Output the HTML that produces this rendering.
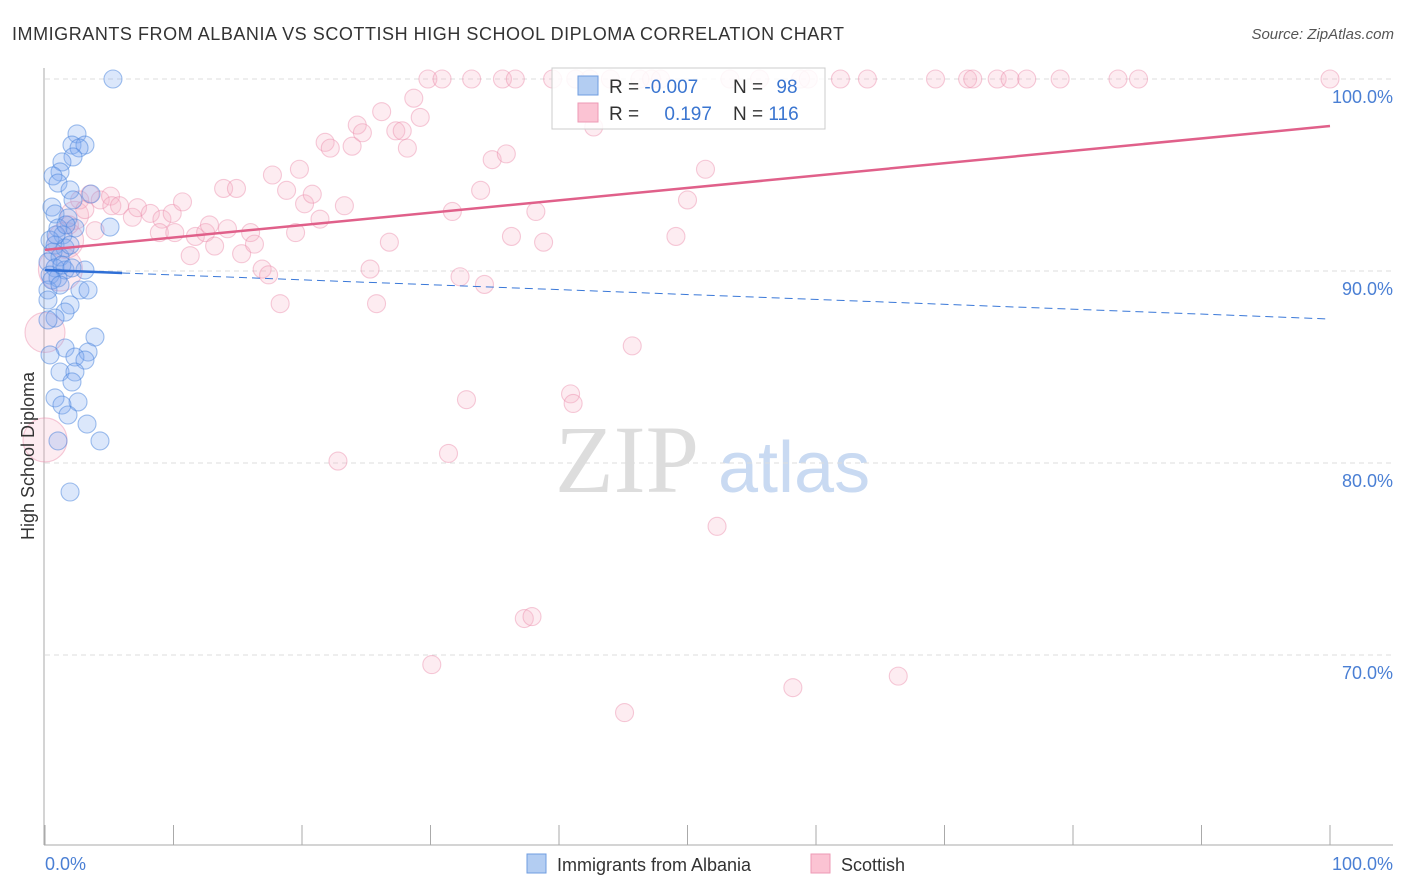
<!DOCTYPE html>
<html><head><meta charset="utf-8"><style>
body{margin:0;background:#fff;font-family:"Liberation Sans",sans-serif}
svg{display:block}
</style></head><body>
<svg id="c" width="1406" height="892">
<text x="12" y="40" font-size="18" fill="#333" textLength="832">IMMIGRANTS FROM ALBANIA VS SCOTTISH HIGH SCHOOL DIPLOMA CORRELATION CHART</text>
<text x="1394" y="39" font-size="15" fill="#555" text-anchor="end" font-style="italic">Source: ZipAtlas.com</text>
<text x="555" y="492" font-size="96" fill="#ddd" font-family="Liberation Serif">ZIP</text>
<text x="718" y="492" font-size="72" fill="#c9daf2">atlas</text>
<g id="grid"></g><g id="axes"></g><g id="pts"></g><g id="lines"></g>
<text transform="translate(34,456) rotate(-90)" font-size="18" fill="#333" text-anchor="middle">High School Diploma</text>
<text x="45" y="870" font-size="18" fill="#4a7fd4">0.0%</text>
<text x="1393" y="870" font-size="18" fill="#4a7fd4" text-anchor="end">100.0%</text>
<g>
<rect x="552" y="68" width="273" height="61" fill="#fff" fill-opacity="0.85" stroke="#ccc"/>
<rect x="578" y="76" width="20" height="19" fill="#b3cdf2" stroke="#6f9de0"/>
<rect x="578" y="103" width="20" height="19" fill="#fbc3d3" stroke="#ee9ab5"/>
<text x="609" y="93" font-size="19" fill="#333">R = <tspan fill="#3a75d0">-0.007</tspan></text>
<text x="733" y="93" font-size="19" fill="#333">N = <tspan fill="#3a75d0" dx="8">98</tspan></text>
<text x="609" y="120" font-size="19" fill="#333">R = <tspan fill="#3a75d0" dx="20">0.197</tspan></text>
<text x="733" y="120" font-size="19" fill="#333">N = <tspan fill="#3a75d0">116</tspan></text>
</g>
<g>
<rect x="527" y="854" width="19" height="19" fill="#b3cdf2" stroke="#6f9de0"/>
<text x="557" y="871" font-size="18" fill="#333">Immigrants from Albania</text>
<rect x="811" y="854" width="19" height="19" fill="#fbc3d3" stroke="#ee9ab5"/>
<text x="841" y="871" font-size="18" fill="#333">Scottish</text>
</g>
</svg>
<script>
const yTicks=[100,90,80,70];
const yTickLabels=["100.0%","90.0%","80.0%","70.0%"];
const xTicks=[0,10,20,30,40,50,60,70,80,90,100];
const blueX=[5.29,2.49,2.10,3.11,2.65,2.18,1.32,1.17,0.62,1.01,1.95,3.58,2.18,0.54,0.78,1.79,2.33,1.01,1.40,0.39,0.78,1.56,0.62,1.17,0.23,0.78,1.56,3.11,0.39,1.01,0.23,2.72,3.35,1.95,1.56,0.78,0.23,3.89,1.56,3.35,2.33,3.11,1.17,2.33,2.10,0.78,2.57,1.32,1.79,3.27,4.28,1.01,1.95,5.06,0.23,0.39,1.32,1.95,0.86,1.63,0.54,1.17,2.10];
const blueY=[100,97.14,96.56,96.56,96.41,95.94,95.68,95.16,94.95,94.58,94.22,94.01,93.70,93.33,92.97,92.76,92.24,92.24,91.88,91.61,91.35,91.20,90.99,90.73,90.47,90.16,90.05,90.05,89.79,89.64,89.01,89.01,89.01,88.23,87.86,87.55,87.45,86.56,85.99,85.78,85.52,85.36,84.74,84.74,84.22,83.39,83.18,83.02,82.50,82.03,81.15,81.15,78.49,92.29,88.49,85.63,90.31,91.35,91.88,92.40,89.53,89.27,90.16];
const pinkX=[0,0,1.2,1.6,2.3,2.7,3.5,4.3,5.1,5.2,5.8,6.8,7.2,8.2,9.1,9.9,10.7,8.9,10.1,11.3,11.7,12.5,12.8,13.2,13.9,14.9,14.2,15.3,16.0,16.3,16.9,17.4,18.3,17.7,18.8,19.5,19.8,20.2,20.8,21.4,21.8,22.2,23.3,23.9,24.3,24.7,25.3,25.8,26.2,26.8,27.3,27.8,28.2,28.7,29.2,29.8,30.9,31.7,32.3,32.8,31.4,33.2,33.9,34.2,34.8,35.6,35.9,36.3,36.6,38.2,38.8,22.8,30.1,37.3,37.9,39.5,40.9,41.1,41.3,42.7,42.4,44.0,45.7,45.1,47.2,47.9,49.1,50.0,51.4,52.3,53.3,58.2,59.4,61.9,64.0,66.4,69.3,71.8,72.2,74.1,75.1,76.4,79.0,83.5,85.1,100,46.3,55.6,58.8,3.9,3.1,1.9];
const pinkY=[81.2,86.8,90.1,91.6,92.9,93.7,94.0,93.7,93.9,93.4,93.4,92.8,93.3,93.0,92.7,93.0,93.6,92.0,92.0,90.8,91.8,92.0,92.4,91.3,94.3,94.3,92.2,90.9,92.0,91.4,90.1,89.8,88.3,95.0,94.2,92.0,95.3,93.5,94.0,92.7,96.7,96.4,93.4,96.5,97.6,97.2,90.1,88.3,98.3,91.5,97.3,97.3,96.4,99.0,98.0,100,100,93.1,89.7,83.3,80.5,100,94.2,89.3,95.8,100,96.1,91.8,100,93.1,91.5,80.1,69.5,71.9,72.0,100,83.6,83.1,100,97.5,100,100,86.1,67.0,100,100,91.8,93.7,95.3,76.7,100,68.3,100,100,100,68.9,100,100,100,100,100,100,100,100,100,100,100,100,100,92.1,93.2,92.4];
const pinkR=[22,20,22,18,14];
const pinkTrend=[91.1,97.55];
const blueTrend=[90.05,87.5];
const NS="http://www.w3.org/2000/svg";
const X=v=>45+v*12.85, Y=v=>79+(100-v)*19.2;
function mk(t,a,p){const e=document.createElementNS(NS,t);for(const k in a)e.setAttribute(k,a[k]);p.appendChild(e);return e;}
const grid=document.getElementById('grid'),axes=document.getElementById('axes'),pts=document.getElementById('pts'),lines=document.getElementById('lines');
yTicks.forEach((t,i)=>{
 const g=mk('line',{x1:45,x2:1393,y1:Y(t),y2:Y(t),stroke:'#ddd','stroke-dasharray':'5,4'},grid);
 
 
 const l=mk('text',{x:1393,y:Y(t)+24,'font-size':18,fill:'#4a7fd4','text-anchor':'end'},grid);
 l.textContent=yTickLabels[i];
 
 
});
const ya=mk('line',{x1:44,x2:44,y1:68,y2:845,stroke:'#aaa'},axes);


const xa=mk('line',{x1:44,x2:1393,y1:845,y2:845,stroke:'#aaa'},axes);


xTicks.forEach(t=>{
 const k=mk('line',{x1:X(t),x2:X(t),y1:825,y2:845,stroke:'#aaa'},axes);
 
 
});
pinkX.forEach((v,i)=>{
 const c=mk('circle',{cx:X(v),cy:Y(pinkY[i]),r:pinkR[i]||9,fill:'rgba(248,180,200,0.25)',stroke:'rgba(235,140,170,0.45)','stroke-width':1.1},pts);
 
 
});
blueX.forEach((v,i)=>{
 const c=mk('circle',{cx:X(v),cy:Y(blueY[i]),r:9,fill:'rgba(125,170,240,0.28)',stroke:'rgba(70,130,220,0.5)','stroke-width':1.1},pts);
 
 
});
const pl=mk('line',{x1:X(0),y1:Y(pinkTrend[0]),x2:X(100),y2:Y(pinkTrend[1]),stroke:'#e0608a','stroke-width':2.5},lines);


const bY=x=>blueTrend[0]+(blueTrend[1]-blueTrend[0])*x/100;
const bs=mk('line',{x1:X(0),y1:Y(bY(0)),x2:X(6),y2:Y(bY(6)),stroke:'#2f6fd6','stroke-width':2.5},lines);


const bd=mk('line',{x1:X(6),y1:Y(bY(6)),x2:X(100),y2:Y(bY(100)),stroke:'#3a78d8','stroke-width':1,'stroke-dasharray':'8,5'},lines);


</script>
</body></html>
